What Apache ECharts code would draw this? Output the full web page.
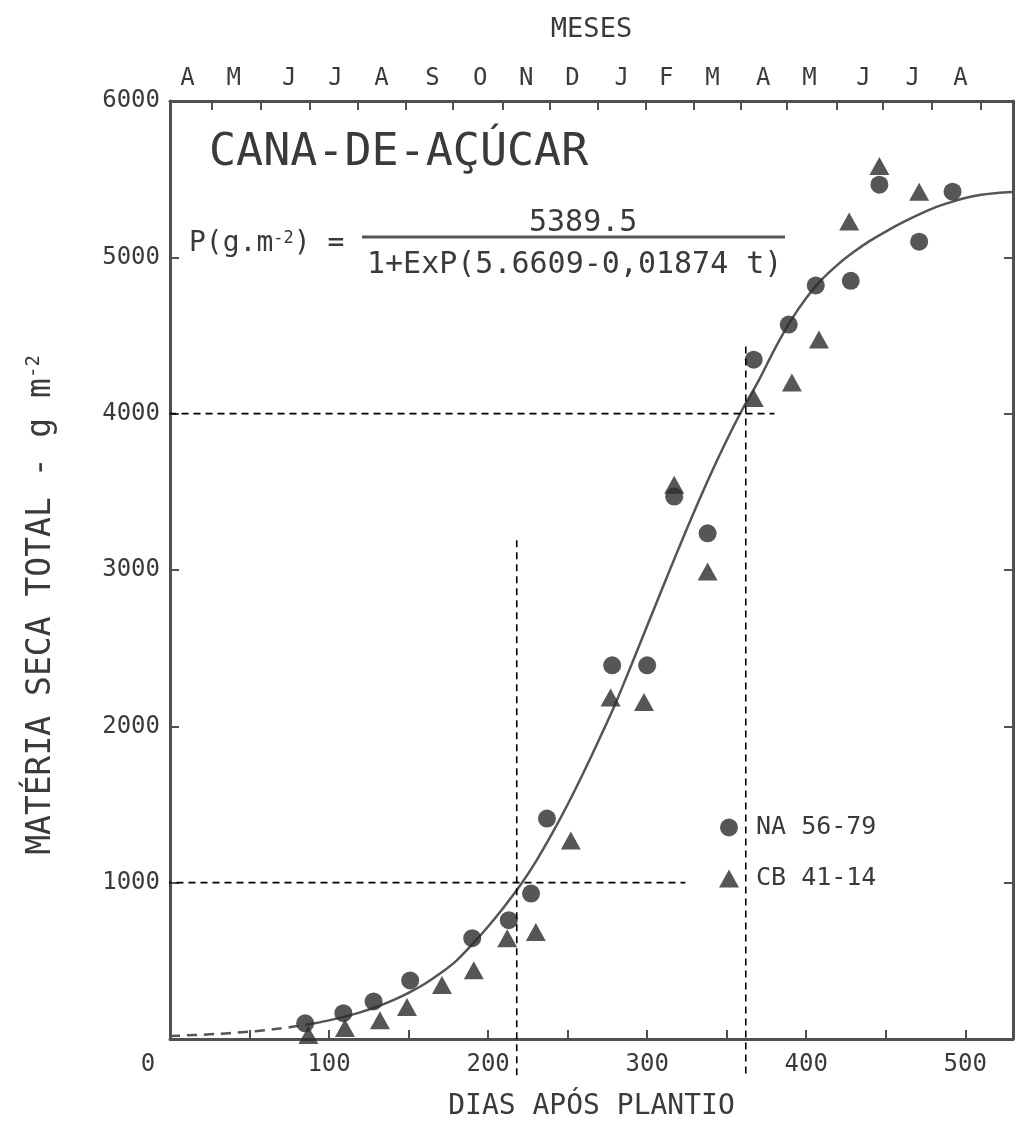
<!DOCTYPE html>
<html><head><meta charset="utf-8">
<script src="https://cdn.jsdelivr.net/npm/echarts@6/dist/echarts.min.js"></script>
<style>html,body{margin:0;padding:0;background:#fff}#c{width:1017px;height:1126px}</style>
</head><body><div id="c"></div>
<script>
// ---- data ----
const monthLetters   = ['A','M','J','J','A','S','O','N','D','J','F','M','A','M','J','J','A'];
const monthLabelDays = [11,40,75,104,133,165,195,224,253,284,312,341,373,402,436,467,497];
const monthTickDays  = [26,57,88,118,148,178,209,239,269,299,329,359,388,419,448,479,510];

const naDays = [85,109,128,151,190,213,227,237,278,300,317,338,367,389,406,428,446,471,492];
const naVals = [100,165,240,375,645,760,930,1410,2390,2390,3470,3235,4345,4570,4820,4850,5465,5100,5420];

const cbDays = [87,110,132,149,171,191,212,230,252,277,298,317,338,367,391,408,427,446,471];
const cbVals = [25,70,120,205,345,440,645,685,1270,2185,2155,3545,2990,4100,4200,4475,5230,5585,5420];

// fitted curve as drawn (dashed before the first sample)
const curveDays = [0,10,20,30,40,50,60,70,80,90,100,110,120,130,140,150,160,170,180,190,200,210,220,230,240,250,260,270,280,290,300,310,320,330,340,350,360,370,380,390,400,410,420,430,440,450,460,470,480,490,500,510,520,530];
const curveVals = [19,23,27,33,39,47,57,69,83,99,119,143,172,206,247,295,352,420,500,605,720,845,980,1135,1310,1500,1705,1920,2145,2391,2643,2894,3143,3384,3614,3830,4030,4210,4410,4590,4740,4860,4955,5035,5105,5165,5220,5270,5315,5350,5380,5400,5412,5418];
const curveDashedUntilDay = 90;

// dashed reading guides
const guideH1000 = [[-94,1000],[324,1000]];
const guideV1000 = [[218,3190],[218,-260]];
const guideH4000 = [[-38,4000],[380,4000]];
const guideV4000 = [[362,4430],[362,-230]];

const seriesNames = ['NA 56-79','CB 41-14'];

// ---- chart ----
const FONT = '"DejaVu Sans Mono", monospace';
const TXT = '#3a3a3a';
const AX = '#505050';
const MARK = '#2c2c2c';
const zip = (a,b) => a.map((v,i)=>[v,b[i]]);
const curve = zip(curveDays, curveVals);
const cut = curveDays.indexOf(curveDashedUntilDay);

const guideStyle = {color:'#000', width:1.6, type:[7,5]};
function guide(d){ return {type:'line', data:d, clip:false, showSymbol:false, symbol:'none', silent:true, z:10, lineStyle:guideStyle, animation:false}; }

const chart = echarts.init(document.getElementById('c'), null, {renderer:'canvas'});
chart.setOption({
  animation:false,
  backgroundColor:'#fff',
  title:[
    {text:'CANA-DE-AÇÚCAR', left:204, top:126, textStyle:{fontFamily:FONT, fontSize:45, fontWeight:'normal', color:TXT}},
    {text:'P(g.m{sup|-2}) =', left:184, top:225, textStyle:{fontFamily:FONT, fontSize:28, fontWeight:'normal', color:TXT,
      rich:{sup:{fontFamily:FONT, fontSize:17, color:TXT, verticalAlign:'top', lineHeight:16}}}},
    {text:'5389.5', left:524, top:203, textStyle:{fontFamily:FONT, fontSize:30, fontWeight:'normal', color:TXT}},
    {text:'1+ExP(5.6609-0,01874 t)', left:362, top:245, textStyle:{fontFamily:FONT, fontSize:30, fontWeight:'normal', color:TXT}}
  ],
  graphic:[
    {type:'line', shape:{x1:362, y1:237, x2:785, y2:237}, style:{stroke:'#555', lineWidth:3}, silent:true}
  ],
  legend:{
    data:[{name:seriesNames[0], icon:'circle'},{name:seriesNames[1], icon:'triangle'}],
    orient:'vertical', left:714, top:810, itemWidth:20, itemHeight:18, itemGap:26,
    textStyle:{fontFamily:FONT, fontSize:25, color:TXT, padding:[0,0,0,12]}
  },
  grid:{left:170, right:4, top:101, bottom:87, containLabel:false},
  xAxis:[
    {type:'value', position:'bottom', min:0, max:530, interval:50,
     axisLine:{show:true, onZero:false, lineStyle:{color:AX, width:3}},
     axisTick:{show:true, inside:true, length:9, lineStyle:{color:AX, width:2}},
     splitLine:{show:false},
     axisLabel:{margin:14, fontFamily:FONT, fontSize:24, color:TXT, showMaxLabel:false,
       formatter:v => v===0 ? '{z|0}' : (v%100===0 ? String(v) : ''),
       rich:{z:{fontFamily:FONT, fontSize:24, color:TXT, padding:[0,44,0,0]}}},
     name:'DIAS APÓS PLANTIO', nameLocation:'middle', nameGap:54,
     nameTextStyle:{fontFamily:FONT, fontSize:28, color:TXT}},
    {type:'value', position:'top', min:0, max:530,
     axisLine:{show:true, onZero:false, lineStyle:{color:AX, width:3}},
     axisTick:{show:true, inside:true, length:9, lineStyle:{color:AX, width:2}, customValues:monthTickDays},
     splitLine:{show:false},
     axisLabel:{margin:10, fontFamily:FONT, fontSize:24, color:TXT, customValues:monthLabelDays,
       formatter:v => { const i = monthLabelDays.indexOf(v); return i>=0 ? monthLetters[i] : ''; }},
     name:'MESES', nameLocation:'middle', nameGap:58,
     nameTextStyle:{fontFamily:FONT, fontSize:27, color:TXT}}
  ],
  yAxis:[
    {type:'value', position:'left', min:0, max:6000, interval:1000,
     axisLine:{show:true, onZero:false, lineStyle:{color:AX, width:3}},
     axisTick:{show:true, inside:true, length:9, lineStyle:{color:AX, width:2}},
     splitLine:{show:false},
     axisLabel:{margin:10, fontFamily:FONT, fontSize:24, color:TXT, showMinLabel:false, formatter:v => String(v)},
     name:'MATÉRIA SECA TOTAL - g m{sup|-2}', nameLocation:'middle', nameGap:112, nameRotate:90,
     nameTextStyle:{fontFamily:FONT, fontSize:33, color:TXT, padding:[0,70,0,0],
       rich:{sup:{fontFamily:FONT, fontSize:19, color:TXT, verticalAlign:'top', lineHeight:16}}}},
    {type:'value', position:'right', min:0, max:6000, interval:1000,
     axisLine:{show:true, onZero:false, lineStyle:{color:AX, width:3}},
     axisTick:{show:true, inside:true, length:9, lineStyle:{color:AX, width:2}},
     axisLabel:{show:false}, splitLine:{show:false}}
  ],
  series:[
    {type:'line', name:'curve-a', data:curve.slice(0, cut+1), smooth:0.3, showSymbol:false, symbol:'none', silent:true,
     lineStyle:{color:'#555', width:2.5, type:[10,7]}, z:2},
    {type:'line', name:'curve-b', data:curve.slice(cut), smooth:0.3, showSymbol:false, symbol:'none', silent:true,
     lineStyle:{color:'#555', width:2.5}, z:2},
    {type:'scatter', name:seriesNames[0], data:zip(naDays,naVals), symbol:'circle', symbolSize:18, itemStyle:{color:MARK}, z:3},
    {type:'scatter', name:seriesNames[1], data:zip(cbDays,cbVals), symbol:'triangle', symbolSize:[20,18], itemStyle:{color:MARK}, z:3},
    guide(guideH1000), guide(guideV1000), guide(guideH4000), guide(guideV4000)
  ]
});
</script></body></html>
